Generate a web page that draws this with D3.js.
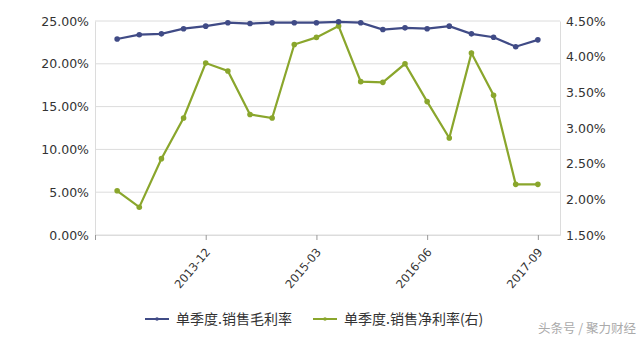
<!DOCTYPE html>
<html><head><meta charset="utf-8">
<script src="https://cdn.jsdelivr.net/npm/d3@7"></script>
<style>body{margin:0;background:#fff}svg{display:block}</style>
</head><body><svg id="c" width="640" height="343"></svg>
<script>
const quarters = ["2012-12","2013-03","2013-06","2013-09","2013-12","2014-03","2014-06","2014-09","2014-12","2015-03","2015-06","2015-09","2015-12","2016-03","2016-06","2016-09","2016-12","2017-03","2017-06","2017-09"];
const grossMargin = [22.9,23.4,23.5,24.1,24.4,24.8,24.7,24.8,24.8,24.8,24.9,24.8,24.0,24.2,24.1,24.4,23.5,23.1,22.0,22.8];
const netMargin = [2.12,1.89,2.57,3.14,3.91,3.80,3.19,3.14,4.17,4.27,4.43,3.65,3.64,3.90,3.37,2.86,4.05,3.46,2.21,2.21];
const leftTicks = [0,5,10,15,20,25];
const rightTicks = [1.5,2.0,2.5,3.0,3.5,4.0,4.5];
const xTickLabels = ["2013-12","2015-03","2016-06","2017-09"];
const seriesNames = ["单季度.销售毛利率","单季度.销售净利率(右)"];

const svg = d3.select("#c");
const L = 95, R = 560, T = 21, B = 235;
const x = d3.scaleLinear().domain([-1, quarters.length]).range([L, R]);
const yL = d3.scaleLinear().domain([0,25]).range([B,T]);
const yR = d3.scaleLinear().domain([1.5,4.5]).range([B,T]);
const font = "'DejaVu Sans', Verdana, sans-serif";
const blue = "#404b86", green = "#8aa62c", gridC = "#dcdcdc", textC = "#333";

// gridlines
svg.append("g").selectAll("line").data(leftTicks).join("line")
  .attr("x1",L).attr("x2",R).attr("y1",d=>yL(d)).attr("y2",d=>yL(d))
  .attr("stroke",gridC).attr("stroke-width",1);

// left axis
const ga = svg.append("g").attr("transform",`translate(${L},0)`)
  .call(d3.axisLeft(yL).tickValues(leftTicks).tickSize(0).tickPadding(6).tickFormat(d=>d.toFixed(2)+"%"));
ga.select(".domain").attr("stroke",gridC);
ga.selectAll("text").attr("font-family",font).attr("font-size",12.5).attr("fill",textC);

// right axis
const gr = svg.append("g").attr("transform",`translate(${R},0)`)
  .call(d3.axisRight(yR).tickValues(rightTicks).tickSize(0).tickPadding(6).tickFormat(d=>d.toFixed(2)+"%"));
gr.select(".domain").attr("stroke",gridC);
gr.selectAll("text").attr("font-family",font).attr("font-size",12.5).attr("fill",textC);

// bottom axis
const tickIdx = [-1,4,9,14,19];
const gb = svg.append("g").attr("transform",`translate(0,${B})`)
  .call(d3.axisBottom(x).tickValues(tickIdx).tickSize(5).tickSizeOuter(0)
    .tickFormat(d=> d<0 ? "" : quarters[d]));
gb.select(".domain").attr("stroke",gridC);
gb.selectAll(".tick line").attr("stroke","#999");
gb.selectAll("text").attr("font-family",font).attr("font-size",11.5).attr("fill",textC)
  .attr("text-anchor","end").attr("dy","0.3em")
  .attr("transform","translate(-4,10) rotate(-50)");

// lines
const lineL = d3.line().x((d,i)=>x(i)).y(d=>yL(d));
const lineR = d3.line().x((d,i)=>x(i)).y(d=>yR(d));
svg.append("path").datum(netMargin).attr("d",lineR).attr("fill","none").attr("stroke",green).attr("stroke-width",2.2);
svg.append("g").selectAll("circle").data(netMargin).join("circle")
  .attr("cx",(d,i)=>x(i)).attr("cy",d=>yR(d)).attr("r",2.8).attr("fill",green);
svg.append("path").datum(grossMargin).attr("d",lineL).attr("fill","none").attr("stroke",blue).attr("stroke-width",2.2);
svg.append("g").selectAll("circle").data(grossMargin).join("circle")
  .attr("cx",(d,i)=>x(i)).attr("cy",d=>yL(d)).attr("r",2.8).attr("fill",blue);

// legend
const lg = [{n:seriesNames[0],c:blue,x:145},{n:seriesNames[1],c:green,x:313}];
lg.forEach(o=>{
  svg.append("line").attr("x1",o.x).attr("x2",o.x+24).attr("y1",319).attr("y2",319).attr("stroke",o.c).attr("stroke-width",2);
  svg.append("circle").attr("cx",o.x+12).attr("cy",319).attr("r",1.8).attr("fill",o.c);
  svg.append("text").attr("x",o.x+31).attr("y",324).attr("font-family","'Noto Sans CJK SC', sans-serif")
    .attr("font-size",14).attr("fill",textC).text(o.n);
});
// watermark
svg.append("text").attr("x",636).attr("y",333).attr("text-anchor","end")
  .attr("font-family","'Noto Sans CJK SC', sans-serif").attr("font-size",12.5).attr("fill","#aaa").text("头条号 / 聚力财经");
</script></body></html>
